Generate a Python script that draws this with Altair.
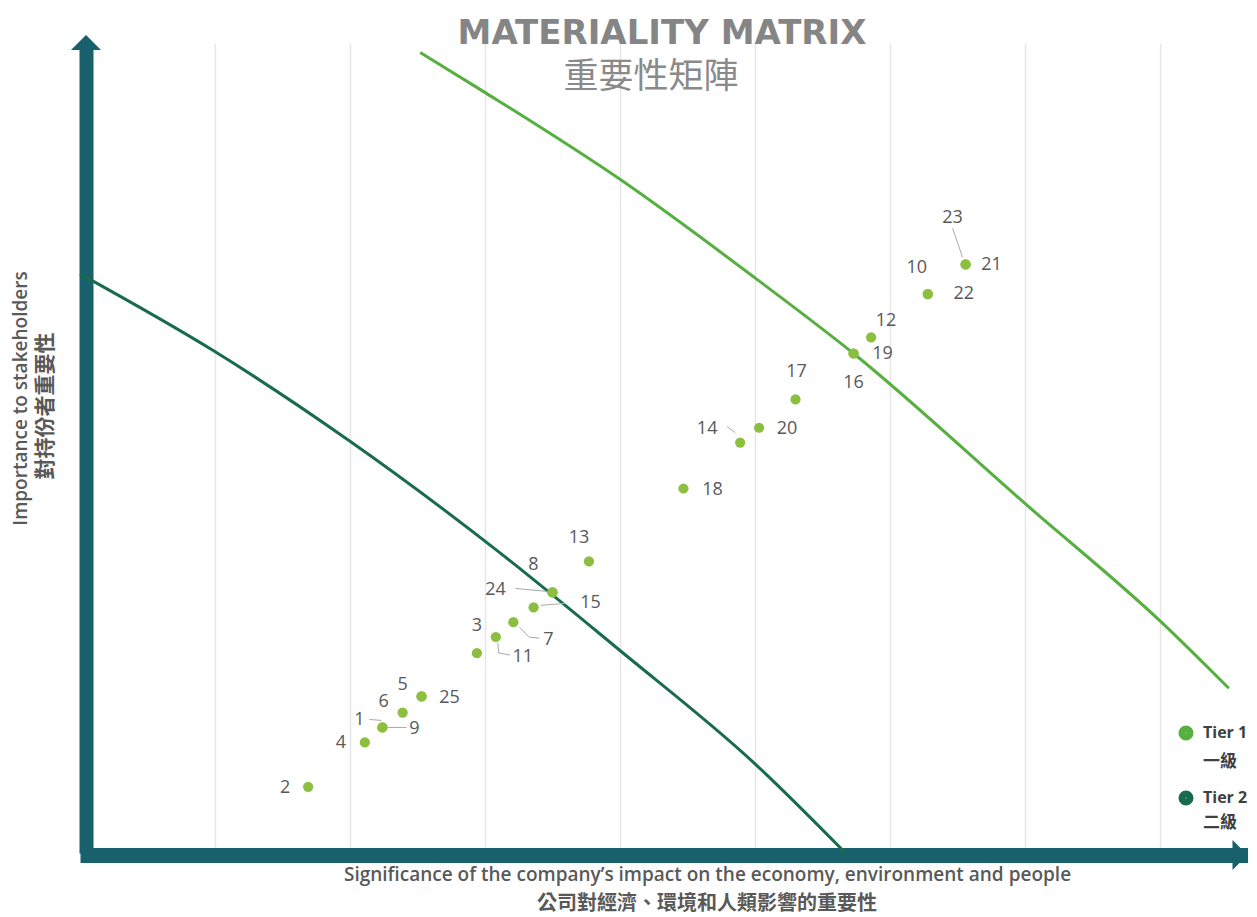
import altair as alt
import pandas as pd

# ---------------- data ----------------
topic_ids = ["1", "2", "3", "4", "5", "6", "7", "8", "9", "10", "11", "12", "13",
             "14", "15", "16", "17", "18", "19", "20", "21", "22", "23", "24", "25"]
impact_score = [2.24, 1.69, 2.94, 2.11, 2.53, 2.39, 3.21, 3.50, 2.24, 6.28, 3.08, 5.86, 3.77,
                4.89, 3.36, 5.73, 5.30, 4.47, 5.73, 5.03, 6.56, 6.28, 6.56, 3.50, 2.53]
stakeholder_score = [0.93, 0.49, 1.48, 0.82, 1.16, 1.04, 1.71, 1.93, 0.93, 4.14, 1.60, 3.82, 2.16,
                     3.04, 1.82, 3.70, 3.36, 2.70, 3.70, 3.15, 4.36, 4.14, 4.36, 1.93, 1.16]

tier_names = ["Tier 1", "Tier 2"]
tier_names_zh = ["一級", "二級"]
tier1_x = [2.52, 2.99, 4.00, 5.00, 5.73, 7.01, 8.01, 8.51]
tier1_y = [5.93, 5.64, 4.99, 4.26, 3.70, 2.58, 1.71, 1.22]
tier2_x = [0.00, 0.99, 2.00, 3.09, 4.00, 4.99, 5.67]
tier2_y = [4.29, 3.72, 3.05, 2.24, 1.50, 0.67, 0.00]

grid_values = [1, 2, 3, 4, 5, 6, 7, 8]

title_en = "MATERIALITY MATRIX"
title_zh = "重要性矩陣"
x_title_en = "Significance of the company\u2019s impact on the economy, environment and people"
x_title_zh = "公司對經濟、環境和人類影響的重要性"
y_title_en = "Importance to stakeholders"
y_title_zh = "對持份者重要性"

# ---------------- layout / style ----------------
PX = 135.0          # pixels per unit on both axes
W, H = 1168, 810
XMAX, YMAX = W / PX, 6.0

TEAL = "#17606c"
T1 = "#55b03f"
T2 = "#186b4e"
PT = "#8cbf3f"
LBL = "#595959"

# label offsets from the dot centre, pixels (dx right, dy down)
LABEL_OFFSET = {
    "1": (-23, -7), "2": (-23, 1), "3": (0, -27), "4": (-24, 1), "5": (-19, -11),
    "6": (-19, -11), "7": (35, 18), "8": (-19, -27), "9": (32, 2), "10": (-11, -26),
    "11": (27, 20), "12": (15, -16), "13": (-10, -23), "14": (-33, -14), "15": (57, -4),
    "16": (0, 29), "17": (1, -27), "18": (29, 1), "19": (29, 0), "20": (28, 1),
    "21": (26, 1), "22": (36, 0), "23": (-13, -46), "24": (-57, -2), "25": (28, 2),
}
# leader lines, pixel offsets from the dot centre
LEADERS = {
    "1": [(-13, -8), (-1, -7)],
    "9": [(5, 0), (24, 0)],
    "11": [(2, 6), (3, 16), (14, 18)],
    "7": [(6, 5), (16, 15), (26, 16)],
    "15": [(7, -2), (32, -4)],
    "24": [(-37, -4), (-5, -1)],
    "14": [(-13, -16), (-5, -10)],
    "23": [(-13, -36), (-3, -7)],
}

points = pd.DataFrame({"label": topic_ids, "x": impact_score, "y": stakeholder_score})

lab_rows = []
for t, x, y in zip(topic_ids, impact_score, stakeholder_score):
    dx, dy = LABEL_OFFSET[t]
    lab_rows.append({"label": t, "x": x + dx / PX, "y": y - dy / PX})
labels_df = pd.DataFrame(lab_rows)

lead_rows = []
pos = {t: (x, y) for t, x, y in zip(topic_ids, impact_score, stakeholder_score)}
for t, segs in LEADERS.items():
    x0, y0 = pos[t]
    for i, (dx, dy) in enumerate(segs):
        lead_rows.append({"label": t, "seq": i, "x": x0 + dx / PX, "y": y0 - dy / PX})
leaders_df = pd.DataFrame(lead_rows)

curves = pd.DataFrame(
    [{"tier": tier_names[0], "x": a, "y": b} for a, b in zip(tier1_x, tier1_y)]
    + [{"tier": tier_names[1], "x": a, "y": b} for a, b in zip(tier2_x, tier2_y)]
)

xs = alt.Scale(domain=[0, XMAX], nice=False, zero=False)
ys = alt.Scale(domain=[0, YMAX], nice=False, zero=False)

x_axis = alt.Axis(
    values=grid_values, grid=True, gridColor="#e6e6e6", gridWidth=1.5,
    labels=False, ticks=False, domainColor=TEAL, domainWidth=15, offset=2,
    title=x_title_en, titleFont="Open Sans", titleFontSize=19, titleFontWeight=600,
    titleColor=LBL, titleX=627, titleY=19, titleBaseline="middle", titleAlign="center",
)
y_axis = alt.Axis(
    grid=False, labels=False, ticks=False, domainColor=TEAL, domainWidth=14, offset=-6,
    title=y_title_en, titleFont="Open Sans", titleFontSize=19, titleFontWeight=600,
    titleColor=LBL, titleAngle=270, titleX=-66, titleY=355, titleBaseline="middle",
    titleAlign="center",
)
X = alt.X("x:Q", scale=xs, axis=x_axis)
Y = alt.Y("y:Q", scale=ys, axis=y_axis)

legend = alt.Legend(
    orient="none", legendX=1098, legendY=682, title=None, padding=0,
    symbolType="circle", symbolSize=64, symbolStrokeWidth=7, symbolOpacity=1,
    labelFont="Open Sans", labelFontSize=16, labelFontWeight="bold",
    labelColor="#404040", labelBaseline="middle", labelOffset=9, rowPadding=29,
)

curve_layer = alt.Chart(curves).mark_line(strokeWidth=3, interpolate="monotone").encode(
    x=X, y=Y,
    color=alt.Color("tier:N", scale=alt.Scale(domain=tier_names, range=[T1, T2]), legend=legend),
)

leader_layer = alt.Chart(leaders_df).mark_line(color="#a9a9a9", strokeWidth=1).encode(
    x=X, y=Y, detail="label:N", order="seq:Q"
)

point_layer = alt.Chart(points).mark_circle(size=105, color=PT, opacity=1).encode(x=X, y=Y)

label_layer = alt.Chart(labels_df).mark_text(
    font="Open Sans", fontSize=18, color=LBL, align="center", baseline="middle"
).encode(x=X, y=Y, text="label:N")

dummy = pd.DataFrame({"t": [title_en]})
arrow_up = alt.Chart(dummy).mark_point(
    shape="M-1,0.5L0,-0.5L1,0.5Z", filled=True, size=900, color=TEAL, opacity=1, strokeWidth=0
).encode(x=alt.value(6), y=alt.value(-0.5))
arrow_right = alt.Chart(dummy).mark_point(
    shape="M-0.5,-1L0.5,0L-0.5,1Z", filled=True, size=900, color=TEAL, opacity=1, strokeWidth=0
).encode(x=alt.value(1160), y=alt.value(H + 2))

t_en = alt.Chart(pd.DataFrame({"t": [title_en]})).mark_text(
    font="DejaVu Sans", fontSize=34, fontWeight="bold", color="#858585",
    align="center", baseline="alphabetic"
).encode(text="t:N", x=alt.value(582), y=alt.value(1))
t_zh = alt.Chart(pd.DataFrame({"t": [title_zh]})).mark_text(
    font="Noto Sans CJK TC", fontSize=35, color="#8a8a8a", align="center", baseline="middle"
).encode(text="t:N", x=alt.value(571), y=alt.value(34))
xt_zh = alt.Chart(pd.DataFrame({"t": [x_title_zh]})).mark_text(
    font="Noto Sans CJK TC", fontSize=20, fontWeight="bold", color=LBL,
    align="center", baseline="middle"
).encode(text="t:N", x=alt.value(627), y=alt.value(861))
yt_zh = alt.Chart(pd.DataFrame({"t": [y_title_zh]})).mark_text(
    font="Noto Sans CJK TC", fontSize=21, fontWeight="bold", color=LBL,
    align="center", baseline="middle", angle=270
).encode(text="t:N", x=alt.value(-34), y=alt.value(363))

leg_zh1 = alt.Chart(pd.DataFrame({"t": [tier_names_zh[0]]})).mark_text(
    font="Noto Sans CJK TC", fontSize=17, fontWeight="bold", color="#404040",
    align="left", baseline="middle"
).encode(text="t:N", x=alt.value(1123), y=alt.value(719))
leg_zh2 = alt.Chart(pd.DataFrame({"t": [tier_names_zh[1]]})).mark_text(
    font="Noto Sans CJK TC", fontSize=17, fontWeight="bold", color="#404040",
    align="left", baseline="middle"
).encode(text="t:N", x=alt.value(1123), y=alt.value(780))

chart = alt.layer(
    curve_layer, leader_layer, point_layer, label_layer,
    arrow_up, arrow_right, t_en, t_zh, xt_zh, yt_zh, leg_zh1, leg_zh2,
).properties(
    width=W, height=H,
    padding={"left": 72, "top": 35, "right": 0, "bottom": 64},
    autosize=alt.AutoSizeParams(type="none"),
    background="white",
).configure_view(strokeWidth=0)

chart.save("out.html", embed_options={"renderer": "svg", "actions": False})
